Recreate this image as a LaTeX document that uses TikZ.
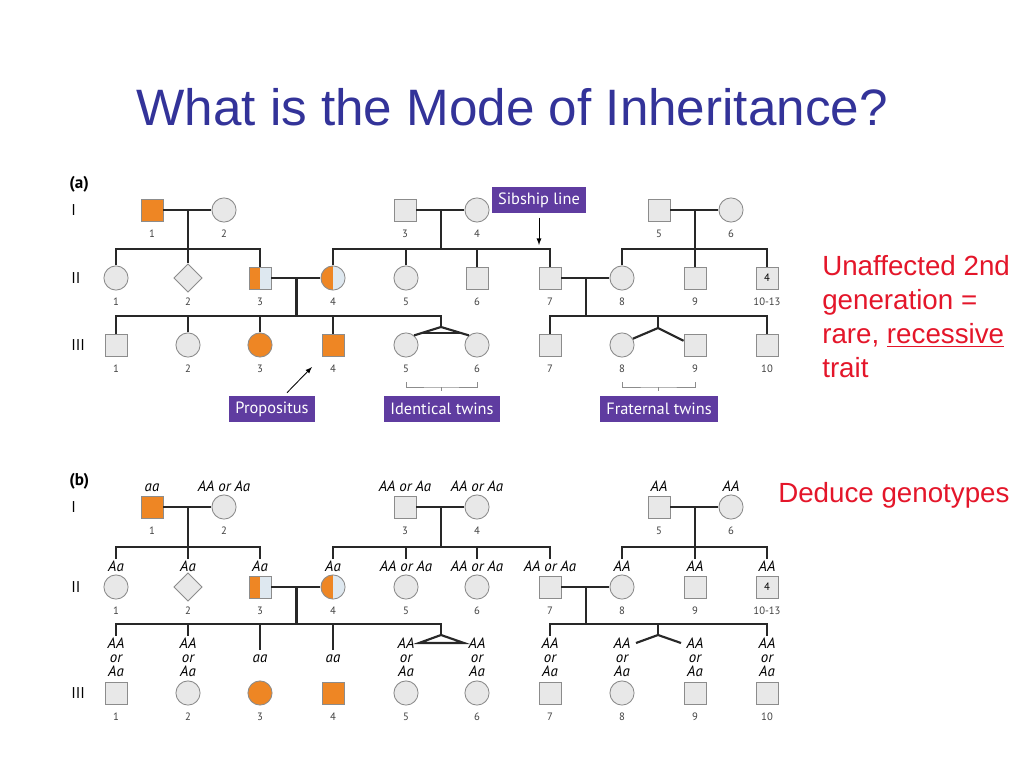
\documentclass[tikz,border=0pt]{standalone}
\usepackage{fontspec}
\setmainfont{Liberation Sans}
\newfontfamily\pedfont{PT Sans}
\usepackage{tikz}
\usetikzlibrary{arrows}
\usetikzlibrary{calc}
\usetikzlibrary{positioning, shapes.geometric}
\definecolor{titleblue}{RGB}{51,51,153}
\definecolor{slidered}{RGB}{228,22,42}
\definecolor{affect}{RGB}{238,134,36}
\definecolor{unaffect}{RGB}{232,232,232}
\definecolor{carrierfill}{RGB}{222,232,240}
\definecolor{outline}{RGB}{140,140,140}
\definecolor{calloutbg}{RGB}{95,60,160}
\definecolor{linecol}{RGB}{40,40,40}
\tikzstyle{male} = [draw=outline,fill=unaffect,rectangle,minimum size=15.5pt,inner sep=0pt,line width=0.6pt]
\tikzstyle{female} = [draw=outline,fill=unaffect,circle,minimum size=17pt,inner sep=0pt,line width=0.6pt]
\tikzstyle{sexunknown} = [draw=outline,fill=unaffect,diamond,minimum size=20pt,inner sep=0pt,line width=0.6pt]
\tikzstyle{affected} = [fill=affect]
\tikzstyle{halfaffected} = [path picture={
    \fill[affect] (path picture bounding box.south west) rectangle (path picture bounding box.north);
    \fill[carrierfill] (path picture bounding box.south) rectangle (path picture bounding box.north east);}]
\tikzstyle{relation} = [draw=linecol,line width=1.5pt]
\tikzstyle{num} = [font=\pedfont\fontsize{7.5}{8}\selectfont,text=black!75,inner sep=0pt,text height=5.3pt,text depth=0pt]
\tikzstyle{gen} = [font=\pedfont\fontsize{11}{12}\selectfont,anchor=west,inner sep=0pt]
\tikzstyle{geno} = [font=\pedfont\itshape\fontsize{10.5}{10}\selectfont,inner sep=1pt,text height=7.5pt,text depth=0pt]
\tikzstyle{genostack} = [font=\pedfont\itshape\fontsize{10.5}{10}\selectfont,inner sep=1pt,align=center]
\tikzstyle{callout} = [fill=calloutbg,text=white,font=\pedfont\fontsize{11.5}{12}\selectfont,minimum height=18.3pt,inner xsep=4.5pt]
\tikzstyle{pointer} = [-latex,line width=0.6pt,black]
\tikzstyle{bracket} = [draw=black!45,line width=0.5pt]

\begin{document}
\begin{tikzpicture}[x=0.703125pt,y=-0.703125pt]
  \fill[white] (0,0) rectangle (1024,768);
  \useasboundingbox (0,0) rectangle (1024,768);

  \node[anchor=base,text=titleblue,font=\fontsize{36}{40}\selectfont] (title) at (512,126) {What is the Mode of Inheritance?};

  % (a) pedigree
  \node[gen,font=\pedfont\bfseries\fontsize{12}{13}\selectfont] (alabel) at (69,184) {(a)};
  \node[gen] (aGenI) at (71,210) {I};
  \node[gen] (aGenII) at (71,278) {II};
  \node[gen] (aGenIII) at (71,345) {III};

  \node[male,affected] (aI1) at (152,210) {};
  \node[female] (aI2) at (224,210) {};
  \node[male] (aI3) at (405,210) {};
  \node[female] (aI4) at (477,210) {};
  \node[male] (aI5) at (659,210) {};
  \node[female] (aI6) at (731,210) {};

  \node[female] (aII1) at (116,278) {};
  \node[sexunknown] (aII2) at (188,278) {};
  \node[male,halfaffected] (aII3) at (260,278) {};
  \node[female,halfaffected] (aII4) at (333,278) {};
  \node[female] (aII5) at (406,278) {};
  \node[male] (aII6) at (477,278) {};
  \node[male] (aII7) at (550,278) {};
  \node[female] (aII8) at (622,278) {};
  \node[male] (aII9) at (695,278) {};
  \node[male,font=\pedfont\fontsize{7.5}{8}\selectfont] (aII10) at (767,278) {4};

  \node[male] (aIII1) at (116,345) {};
  \node[female] (aIII2) at (188,345) {};
  \node[female,affected] (aIII3) at (260,345) {};
  \node[male,affected] (aIII4) at (333,345) {};
  \node[female] (aIII5) at (406,345) {};
  \node[female] (aIII6) at (477,345) {};
  \node[male] (aIII7) at (550,345) {};
  \node[female] (aIII8) at (622,345) {};
  \node[male] (aIII9) at (695,345) {};
  \node[male] (aIII10) at (767,345) {};

  \foreach \n/\t in {aI1/1,aI2/2,aI3/3,aI4/4,aI5/5,aI6/6,
      aII1/1,aII2/2,aII3/3,aII4/4,aII5/5,aII6/6,aII7/7,aII8/8,aII9/9,aII10/10-13,
      aIII1/1,aIII2/2,aIII3/3,aIII4/4,aIII5/5,aIII6/6,aIII7/7,aIII8/8,aIII9/9,aIII10/10}
    \node[num] (\n-num) at ($(\n)+(0,24)$) {\t};

  \coordinate (aS1) at (188,249);
  \coordinate (aS2) at (441,249);
  \coordinate (aS3) at (695,249);
  \coordinate (aS4) at (296.5,316);
  \coordinate (aS5) at (586,316);
  \coordinate (aTw1) at (441,327);
  \coordinate (aTw2) at (658,328);

  % now link the nodes
  \draw[relation] (aI1) -- (aI2);
  \draw[relation] ($(aI1)!.5!(aI2)$) -- (aII2.north);
  \draw[relation] (aII1.north) |- (aS1) -| (aII3.north);
  \draw[relation] (aI3) -- (aI4);
  \draw[relation] ($(aI3)!.5!(aI4)$) -- (aS2);
  \draw[relation] (aII4.north) |- (aS2) -| (aII7.north);
  \draw[relation] (aII5.north) -- (aII5 |- aS2);
  \draw[relation] (aII6.north) -- (aII6 |- aS2);
  \draw[relation] (aI5) -- (aI6);
  \draw[relation] ($(aI5)!.5!(aI6)$) -- (aII9.north);
  \draw[relation] (aII8.north) |- (aS3) -| (aII10.north);

  \draw[relation] (aII3) -- (aII4);
  \draw[relation] ($(aII3)!.5!(aII4)$) -- (aS4);
  \draw[relation] (aIII1.north) |- (aTw1 |- aS4) -- (aTw1);
  \draw[relation] (aIII2.north) -- (aIII2 |- aS4);
  \draw[relation] (aIII3.north) -- (aIII3 |- aS4);
  \draw[relation] (aIII4.north) -- (aIII4 |- aS4);
  \draw[relation] (aIII5.50) -- (aTw1) -- (aIII6.130);
  \draw[relation] ($(aTw1)!.7!(aIII5.50)$) -- ($(aTw1)!.7!(aIII6.130)$);
  \draw[relation] (aII7) -- (aII8);
  \draw[relation] ($(aII7)!.5!(aII8)$) -- (aS5);
  \draw[relation] (aIII7.north) |- (aS5) -| (aIII10.north);
  \draw[relation] (aTw2 |- aS5) -- (aTw2);
  \draw[relation] (aIII8.30) -- (aTw2) -- (aIII9.160);

  % call-outs
  \node[callout] (sibcall) at (539,200) {Sibship line};
  \coordinate (sibtip) at (539,245);
  \draw[pointer] ([yshift=-3pt]sibcall.south) -- (sibtip);
  \node[callout] (propcall) at (272,409) {Propositus};
  \coordinate (proptip) at (312,367);
  \draw[pointer] ($(propcall.north)+(15,-3)$) -- (proptip);
  \node[callout] (idcall) at (442,409) {Identical twins};
  \coordinate (idbr) at (441,387);
  \draw[bracket] ($(aIII5 |- idbr)+(0,-5)$) |- (idbr) -| ($(aIII6 |- idbr)+(0,-5)$);
  \draw[bracket] (idbr) -- ++(0,4);
  \node[callout] (frcall) at (659,409) {Fraternal twins};
  \coordinate (frbr) at (658.5,387);
  \draw[bracket] ($(aIII8 |- frbr)+(0,-5)$) |- (frbr) -| ($(aIII9 |- frbr)+(0,-5)$);
  \draw[bracket] (frbr) -- ++(0,4);

  % (b) pedigree with genotypes
  \node[gen,font=\pedfont\bfseries\fontsize{12}{13}\selectfont] (blabel) at (69,481) {(b)};
  \node[gen] (bGenI) at (71,507) {I};
  \node[gen] (bGenII) at (71,587) {II};
  \node[gen] (bGenIII) at (71,693) {III};

  \node[male,affected] (bI1) at (152,507) {};
  \node[female] (bI2) at (224,507) {};
  \node[male] (bI3) at (405,507) {};
  \node[female] (bI4) at (477,507) {};
  \node[male] (bI5) at (659,507) {};
  \node[female] (bI6) at (731,507) {};

  \node[female] (bII1) at (116,587) {};
  \node[sexunknown] (bII2) at (188,587) {};
  \node[male,halfaffected] (bII3) at (260,587) {};
  \node[female,halfaffected] (bII4) at (333,587) {};
  \node[female] (bII5) at (406,587) {};
  \node[female] (bII6) at (477,587) {};
  \node[male] (bII7) at (550,587) {};
  \node[female] (bII8) at (622,587) {};
  \node[male] (bII9) at (695,587) {};
  \node[male,font=\pedfont\fontsize{7.5}{8}\selectfont] (bII10) at (767,587) {4};

  \node[male] (bIII1) at (116,693) {};
  \node[female] (bIII2) at (188,693) {};
  \node[female,affected] (bIII3) at (260,693) {};
  \node[male,affected] (bIII4) at (333,693) {};
  \node[female] (bIII5) at (406,693) {};
  \node[female] (bIII6) at (477,693) {};
  \node[male] (bIII7) at (550,693) {};
  \node[female] (bIII8) at (622,693) {};
  \node[male] (bIII9) at (695,693) {};
  \node[male] (bIII10) at (767,693) {};

  \foreach \n/\t in {bI1/1,bI2/2,bI3/3,bI4/4,bI5/5,bI6/6,
      bII1/1,bII2/2,bII3/3,bII4/4,bII5/5,bII6/6,bII7/7,bII8/8,bII9/9,bII10/10-13,
      bIII1/1,bIII2/2,bIII3/3,bIII4/4,bIII5/5,bIII6/6,bIII7/7,bIII8/8,bIII9/9,bIII10/10}
    \node[num] (\n-num) at ($(\n)+(0,24)$) {\t};

  \foreach \n/\t in {bI1/aa,bI2/AA or Aa,bI3/AA or Aa,bI4/AA or Aa,bI5/AA,bI6/AA,
      bII1/Aa,bII2/Aa,bII3/Aa,bII4/Aa,bII5/AA or Aa,bII6/AA or Aa,bII7/AA or Aa,bII8/AA,bII9/AA,bII10/AA}
    \node[geno] (g\n) at ($(\n)+(0,-21)$) {\t};
  \foreach \n in {bIII1,bIII2,bIII5,bIII6,bIII7,bIII8,bIII9,bIII10}
    \node[genostack] (g\n) at ($(\n)+(0,-36)$) {AA\\or\\Aa};
  \node[geno] (gbIII3) at (bIII3 |- gbIII2) {aa};
  \node[geno] (gbIII4) at (bIII4 |- gbIII2) {aa};

  \coordinate (bS1) at (188,547);
  \coordinate (bS2) at (441,547);
  \coordinate (bS3) at (695,547);
  \coordinate (bS4) at (296.5,624);
  \coordinate (bS5) at (586,624);
  \coordinate (bTw1) at (441,635);
  \coordinate (bTw2) at (658,635);

  \draw[relation] (bI1) -- (bI2);
  \draw[relation] ($(bI1)!.5!(bI2)$) -- (gbII2.north);
  \draw[relation] (gbII1.north) |- (bS1) -| (gbII3.north);
  \draw[relation] (bI3) -- (bI4);
  \draw[relation] ($(bI3)!.5!(bI4)$) -- (bS2);
  \draw[relation] (gbII4.north) |- (bS2) -| (gbII7.north);
  \draw[relation] (gbII5.north) -- (gbII5 |- bS2);
  \draw[relation] (gbII6.north) -- (gbII6 |- bS2);
  \draw[relation] (bI5) -- (bI6);
  \draw[relation] ($(bI5)!.5!(bI6)$) -- (gbII9.north);
  \draw[relation] (gbII8.north) |- (bS3) -| (gbII10.north);

  \draw[relation] (bII3) -- (bII4);
  \draw[relation] ($(bII3)!.5!(bII4)$) -- (bS4);
  \draw[relation] (gbIII1.north) |- (bTw1 |- bS4) -- (bTw1);
  \draw[relation] (gbIII2.north) -- (gbIII2 |- bS4);
  \draw[relation] (gbIII3.north) -- (gbIII3 |- bS4);
  \draw[relation] (gbIII4.north) -- (gbIII4 |- bS4);
  \draw[relation] (bTw1) -- ($(gbIII5)+(13,-14)$) -- ($(gbIII6)+(-13,-14)$) -- cycle;
  \draw[relation] (bII7) -- (bII8);
  \draw[relation] ($(bII7)!.5!(bII8)$) -- (bS5);
  \draw[relation] (gbIII7.north) |- (bS5) -| (gbIII10.north);
  \draw[relation] (bTw2 |- bS5) -- (bTw2);
  \draw[relation] ($(gbIII8)+(14,-14)$) -- (bTw2) -- ($(gbIII9)+(-14,-14)$);

  % slide notes
  \node[anchor=north west,inner sep=0pt,align=left,text=slidered,font=\fontsize{19.5}{24}\selectfont] (verdict) at (822,255) {Unaffected 2nd\\generation =\\rare, \underline{recessive}\\trait};
  \node[anchor=north west,inner sep=0pt,text=slidered,font=\fontsize{19.5}{24}\selectfont] (deduce) at (778,482) {Deduce genotypes};
\end{tikzpicture}
\end{document}
